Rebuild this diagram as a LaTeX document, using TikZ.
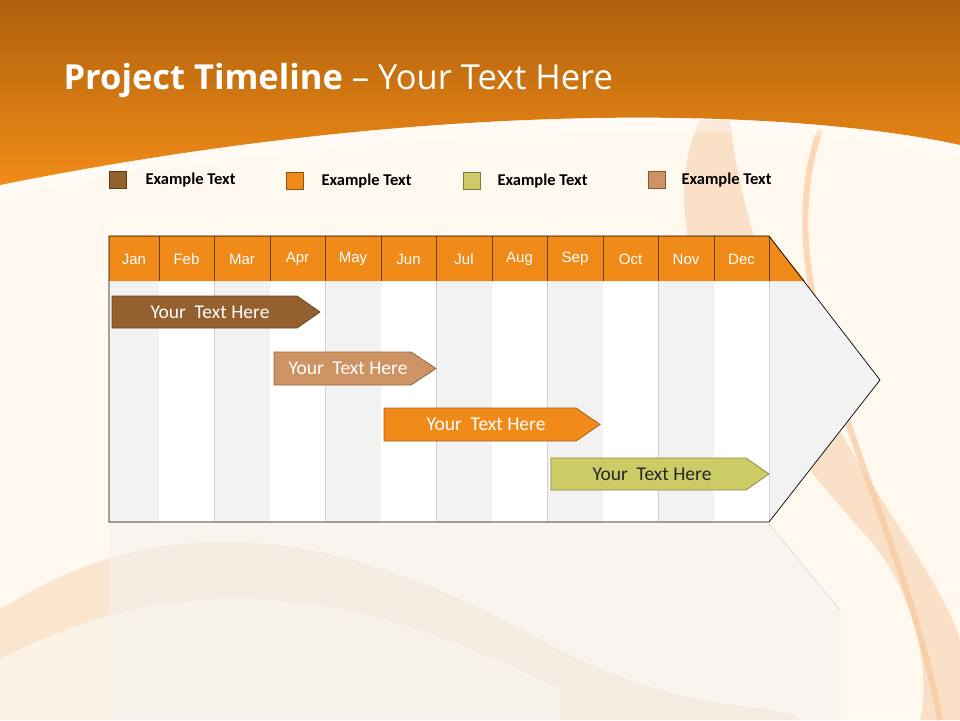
\documentclass[tikz,border=0pt]{standalone}
\usepackage{fontspec}
\setmainfont{Carlito}
\newfontfamily\titlefont{Open Sans}
\newfontfamily\arialf{Liberation Sans}
\definecolor{bgc}{HTML}{FFF8EE}
\definecolor{otop}{HTML}{AE600C}
\definecolor{obot}{HTML}{F28C18}
\definecolor{brn}{HTML}{93602E}
\definecolor{org}{HTML}{F08A18}
\definecolor{olv}{HTML}{CCCB66}
\definecolor{tan}{HTML}{CE9362}
\definecolor{gcol}{HTML}{F2F2F2}
\definecolor{swoosh}{HTML}{F7C9A0}
\begin{document}
\begin{tikzpicture}[x=1pt,y=-1pt,
  legbox/.style={draw=#1!60!black,fill=#1,minimum width=17pt,minimum height=17pt,inner sep=0pt},
  legtxt/.style={font=\bfseries\fontsize{16.5}{18}\selectfont,anchor=west},
  mon/.style={font=\arialf\fontsize{15}{17}\selectfont,text=white},
  bar/.style={draw=#1!70!black,fill=#1,line width=0.8pt},
  bartxt/.style={font=\fontsize{19.5}{22}\selectfont,text=white},
]
\useasboundingbox (0,0) rectangle (960,720);
\fill[bgc] (0,0) rectangle (960,720);
% swooshes
\fill[swoosh,opacity=0.4] (0,610) .. controls (200,480) and (400,560) .. (560,650) .. controls (700,720) and (780,700) .. (800,720) -- (0,720) -- cycle;
\fill[white,opacity=0.5] (0,660) .. controls (220,540) and (420,620) .. (560,690) -- (560,720) -- (0,720) -- cycle;
\fill[swoosh,opacity=0.5] (700,120) .. controls (640,250) and (760,420) .. (870,540) .. controls (920,600) and (930,680) .. (920,720) -- (960,720) -- (960,640) .. controls (930,540) and (760,380) .. (730,120) -- cycle;
\draw[swoosh,line width=6pt,opacity=0.7] (820,130) .. controls (760,300) and (900,500) .. (940,720);
% header band
\shade[top color=otop,bottom color=obot] (0,0) -- (960,0) -- (960,145) .. controls (800,110) and (450,95) .. (0,185) -- cycle;
\fill[white,opacity=0.35] (0,185) .. controls (450,95) and (800,110) .. (960,145) -- (960,155) .. controls (800,122) and (450,112) .. (0,195) -- cycle;
\node[anchor=west,text=white,font=\titlefont\fontsize{34.5}{40}\selectfont] (title) at (60,81) {\textbf{Project Timeline} \textendash{} Your Text Here};
% legend
\node[legbox=brn] (l1) at (118,180) {}; \node[legtxt] (t1) at (142,180) {Example Text};
\node[legbox=org] (l2) at (295,181) {}; \node[legtxt] (t2) at (318,181) {Example Text};
\node[legbox=olv] (l3) at (472,181) {}; \node[legtxt] (t3) at (494,181) {Example Text};
\node[legbox=tan] (l4) at (657,180) {}; \node[legtxt] (t4) at (678,180) {Example Text};
% reflection
\fill[gcol,opacity=0.5] (109,524) -- (769,524) -- (840,610) -- (840,720) -- (109,720) -- cycle;
\draw[gray!40] (769,524) -- (840,610);
% chart body
\fill[gcol] (109,236) -- (769,236) -- (880,380) -- (769,522) -- (109,522) -- cycle;
\foreach \a/\b [count=\i] in {109/159,159/214,214/270,270/325,325/381,381/436,436/492,492/547,547/603,603/658,658/714,714/769}{
  \ifodd\i\else \fill[white] (\a,281) rectangle (\b,522);\fi
  \draw[gray!35] (\b,281) -- (\b,522);
}
\fill[org] (109,236) -- (769,236) -- (805,281) -- (109,281) -- cycle;
\foreach \a/\b/\m in {109/159/Jan,159/214/Feb,214/270/Mar,270/325/Apr,325/381/May,381/436/Jun,436/492/Jul,492/547/Aug,547/603/Sep,603/658/Oct,658/714/Nov,714/769/Dec}{
  \draw[brn!70!black,line width=0.6pt] (\b,236) -- (\b,281);
  \node[mon] (m\m) at ({(\a+\b)/2},259) {\m};
}
\draw[black,line width=0.7pt] (109,281) -- (109,236) -- (769,236) -- (880,380) -- (769,522) -- (109,522) -- cycle;
% bars
\draw[bar=brn] (112,296) -- (297,296) -- (320,312) -- (297,328) -- (112,328) -- cycle;
\node[bartxt] (b1) at (210,312) {Your\ \ Text Here};
\draw[bar=tan] (274,352) -- (411,352) -- (436,368.5) -- (411,385) -- (274,385) -- cycle;
\node[bartxt] (b2) at (348,368.5) {Your\ \ Text Here};
\draw[bar=org] (384,408) -- (576,408) -- (600,424.5) -- (576,441) -- (384,441) -- cycle;
\node[bartxt] (b3) at (486,424.5) {Your\ \ Text Here};
\draw[bar=olv] (551,458) -- (746,458) -- (769,474) -- (746,490) -- (551,490) -- cycle;
\node[bartxt,text=black!85] (b4) at (652,474) {Your\ \ Text Here};
\end{tikzpicture}
\end{document}
